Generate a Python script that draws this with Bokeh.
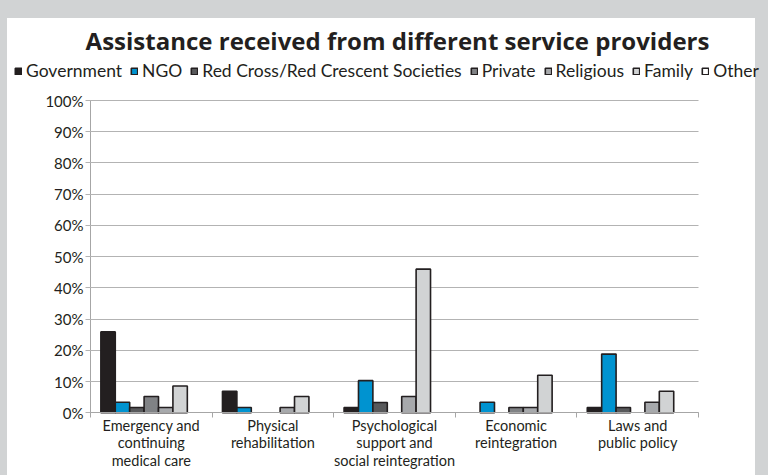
from bokeh.plotting import figure
from bokeh.models import (ColumnDataSource, Range1d, FixedTicker, CustomJSTickFormatter,
                          Legend, LegendItem, Label)
from bokeh.transform import dodge
from bokeh.embed import file_html
from bokeh.resources import INLINE

# Share of respondents (%) who received each kind of assistance, by provider
categories = [
    "Emergency and\ncontinuing\nmedical care",
    "Physical\nrehabilitation",
    "Psychological\nsupport and\nsocial reintegration",
    "Economic\nreintegration",
    "Laws and\npublic policy",
]
providers = ["Government", "NGO", "Red Cross/Red Crescent Societies", "Private",
             "Religious", "Family", "Other"]
government = [25.9, 6.9, 1.7, 0.0, 1.7]
ngo = [3.4, 1.7, 10.3, 3.4, 18.8]
red_cross = [1.7, 0.0, 3.3, 0.0, 1.7]
private = [5.2, 0.0, 0.0, 1.7, 0.0]
religious = [1.7, 1.7, 5.2, 1.7, 3.4]
family = [8.6, 5.2, 46.0, 12.0, 6.9]
other = [0.0, 0.0, 0.0, 0.0, 0.0]
y_ticks = [0, 10, 20, 30, 40, 50, 60, 70, 80, 90, 100]

series = [government, ngo, red_cross, private, religious, family, other]
colors = ["#231f20", "#0093d0", "#58595b", "#808285", "#a7a9ac", "#d1d3d4", "#ffffff"]

INK = "#231f20"
GRID = "#b3b3b3"
AXIS = "#a6a6a6"
FONT = "Lato"
n_cat = len(categories)

# Canvas geometry: the plotting area spans the whole canvas, and the axes sit at
# fixed data positions so the title and legend can live inside it.
W, H = 768, 475
PLOT_L, PLOT_R, PLOT_T, PLOT_B = 90, 698, 100, 412.3
px_per_cat = (PLOT_R - PLOT_L) / n_cat
px_per_pct = (PLOT_B - PLOT_T) / 100
x_rng = Range1d(-PLOT_L / px_per_cat, n_cat + (W - PLOT_R) / px_per_cat)
y_rng = Range1d(-(H - PLOT_B) / px_per_pct, 100 + PLOT_T / px_per_pct)

p = figure(width=W, height=H, x_range=x_rng, y_range=y_rng, output_backend="svg",
           toolbar_location=None, title=None,
           min_border_left=0, min_border_right=0, min_border_top=0, min_border_bottom=0)
p.border_fill_alpha = 0
p.background_fill_alpha = 0
p.outline_line_color = None
# grey page frame with a white panel inside
p.styles = {"background": "linear-gradient(#ffffff, #ffffff) 7px 18px / 748px 457px no-repeat, #d1d3d4"}
p.xgrid.visible = False
p.ygrid.visible = False

# y axis: percentage labels; its inward ticks double as the horizontal grid lines
yax = p.yaxis[0]
yax.fixed_location = 0
yax.bounds = (0, 100)
yax.level = "underlay"
yax.ticker = FixedTicker(ticks=y_ticks)
yax.formatter = CustomJSTickFormatter(code="return tick + '%';")
yax.axis_line_color = AXIS
yax.major_tick_line_color = GRID
yax.major_tick_line_width = 1.2
yax.major_tick_out = 5
yax.major_tick_in = int(PLOT_R - PLOT_L)
yax.minor_tick_line_color = None
yax.major_label_standoff = 2
yax.major_label_text_font = FONT
yax.major_label_text_font_size = "15px"
yax.major_label_text_color = INK

# x axis: category names centred under each group, small ticks on the group boundaries
xax = p.xaxis[0]
xax.fixed_location = 0
xax.bounds = (0, n_cat)
xax.ticker = FixedTicker(ticks=[i + 0.5 for i in range(n_cat)], minor_ticks=list(range(n_cat + 1)))
xax.formatter = CustomJSTickFormatter(args=dict(names=categories), code="return names[Math.floor(tick)];")
xax.axis_line_color = AXIS
xax.major_tick_line_color = None
xax.major_tick_out = 0
xax.major_tick_in = 0
xax.minor_tick_line_color = AXIS
xax.minor_tick_out = 5
xax.minor_tick_in = 0
xax.major_label_standoff = -1
xax.major_label_text_font = FONT
xax.major_label_text_font_size = "14.5px"
xax.major_label_text_color = INK
xax.major_label_text_line_height = 1.03

bar_w = 0.1185
bar_style = dict(width=bar_w, line_color=INK, line_width=1.6)
legend_items = []
for i, (name, vals, color) in enumerate(zip(providers, series, colors)):
    offset = (i - 3) * bar_w
    # visible bars: only the non-zero shares
    keep = [(j + 0.5, v) for j, v in enumerate(vals) if v > 0]
    src = ColumnDataSource(data=dict(pos=[k[0] for k in keep], val=[k[1] for k in keep]))
    p.vbar(x=dodge("pos", offset), top="val", source=src, fill_color=color, **bar_style)
    # full series, hidden, so every provider gets its legend swatch
    full = ColumnDataSource(data=dict(pos=[j + 0.5 for j in range(n_cat)], val=vals))
    swatch = p.vbar(x=dodge("pos", offset), top="val", source=full, fill_color=color,
                    visible=False, **bar_style)
    legend_items.append(LegendItem(label=name, renderers=[swatch]))

legend = Legend(items=legend_items, orientation="horizontal", location=(14, H - 81),
                glyph_width=8, glyph_height=8, label_standoff=4, spacing=8, padding=0, margin=0,
                border_line_color=None, background_fill_alpha=0, inactive_fill_alpha=0,
                label_text_font=FONT, label_text_font_size="17.5px", label_text_color=INK)
p.add_layout(legend, "center")

title = Label(x=397, y=H - 39.5, x_units="screen", y_units="screen",
              text="Assistance received from different service providers",
              text_align="center", text_baseline="alphabetic", text_font="Open Sans",
              text_font_size="24px", text_font_style="bold", text_color=INK)
p.add_layout(title)

open("out.html", "w").write(file_html(p, INLINE))
